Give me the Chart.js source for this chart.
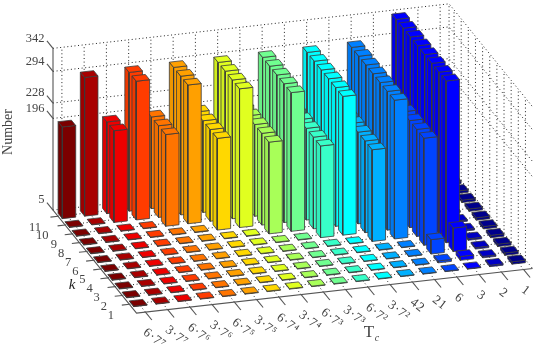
<!DOCTYPE html>
<html>
<head>
<meta charset="utf-8">
<script src="https://cdn.jsdelivr.net/npm/chart.js@4"></script>
<style>
  html, body { margin: 0; padding: 0; background: #fff; }
  canvas { display: block; }
</style>
</head>
<body>
<canvas id="chart" width="538" height="351"></canvas>
<script>
const tcLabels = ["6·7⁷", "3·7⁷", "6·7⁶", "3·7⁶", "6·7⁵", "3·7⁵", "6·7⁴", "3·7⁴", "6·7³", "3·7³", "6·7²", "3·7²", "42", "21", "6", "3", "2", "1"];
const kLabels = [1, 2, 3, 4, 5, 6, 7, 8, 9, 10, 11];
const zTicks = [5, 196, 228, 294, 342];

// one row per k, one value per Tc column
const k1 = [6, 6, 6, 6, 6, 6, 6, 6, 6, 6, 6, 6, 6, 6, 6, 6, 8, 10];
const k2 = [6, 6, 6, 6, 6, 6, 6, 6, 6, 6, 6, 6, 6, 6, 9, 13, 8, 10];
const k3 = [6, 6, 6, 6, 6, 6, 6, 6, 6, 6, 6, 6, 6, 6, 35, 54, 8, 10];
const k4 = [6, 6, 6, 6, 6, 6, 6, 6, 6, 6, 6, 6, 6, 6, 228, 342, 8, 10];
const k5 = [6, 6, 6, 6, 6, 6, 6, 6, 6, 6, 6, 6, 196, 294, 228, 342, 8, 10];
const k6 = [6, 6, 6, 6, 6, 6, 6, 6, 6, 6, 196, 294, 196, 294, 228, 342, 8, 10];
const k7 = [6, 6, 6, 6, 6, 6, 6, 6, 196, 294, 196, 294, 196, 294, 228, 342, 8, 10];
const k8 = [6, 6, 6, 6, 6, 6, 196, 294, 196, 294, 196, 294, 196, 294, 228, 342, 8, 10];
const k9 = [6, 6, 6, 6, 196, 294, 196, 294, 196, 294, 196, 294, 196, 294, 228, 342, 8, 10];
const k10 = [6, 6, 196, 294, 196, 294, 196, 294, 196, 294, 196, 294, 196, 294, 228, 342, 8, 10];
const k11 = [196, 294, 196, 294, 196, 294, 196, 294, 196, 294, 196, 294, 196, 294, 228, 342, 8, 10];
const rows = [k1, k2, k3, k4, k5, k6, k7, k8, k9, k10, k11];

const columnColors = ["#7b0000", "#a80000", "#ee0000", "#ff3c00", "#ff7400", "#ffa000", "#ffd800", "#e0ff20", "#a8ff58", "#70ff90", "#38ffc8", "#00ffff", "#00b0ff", "#0080ff", "#0044ff", "#0000ff", "#0000c4", "#00008c"];

// view: orthographic 3d -> page plane
const cMin = 0.6, cMax = 18.4, kMin = 0, kMax = 11.7, zMin = 5, zMax = 342;
const barW = 0.6;
function project(c, k, z) {
  return {
    x: 53 + (c - cMin) * 22.25 + (kMax - k) * 7.14,
    y: 210.1 - (c - cMin) * 2.5 + (kMax - k) * 8.8 - (z - zMin) * 0.48
  };
}

const datasets = [];
function addPath(points, style) {
  datasets.push(Object.assign({
    data: points, showLine: true, pointRadius: 0, tension: 0,
    borderColor: "#666", borderWidth: 1, fill: false
  }, style));
}
const dotted = { borderColor: "#222", borderWidth: 1, borderDash: [1, 2.6] };
const solid = { borderColor: "#555", borderWidth: 1.1 };

// back wall, right wall and floor grid
tcLabels.forEach((_, i) => {
  const c = i + 1;
  addPath([project(c, kMax, zMin), project(c, kMax, zMax)], dotted);
  addPath([project(c, kMin, zMin), project(c, kMax, zMin)], dotted);
});
kLabels.forEach(k => {
  addPath([project(cMax, k, zMin), project(cMax, k, zMax)], dotted);
  addPath([project(cMin, k, zMin), project(cMax, k, zMin)], dotted);
});
zTicks.forEach(z => {
  addPath([project(cMin, kMax, z), project(cMax, kMax, z), project(cMax, kMin, z)], dotted);
});
addPath([project(cMax, kMax, zMin), project(cMax, kMax, zMax)], dotted);

// axes and ticks
addPath([project(cMin, kMax, zMax), project(cMin, kMax, zMin), project(cMin, kMin, zMin), project(cMax, kMin, zMin)], solid);
tcLabels.forEach((_, i) => {
  addPath([project(i + 1, kMin, zMin), project(i + 1, kMin - 0.9, zMin)], solid);
});
kLabels.forEach(k => {
  addPath([project(cMin, k, zMin), project(cMin - 0.34, k, zMin)], solid);
});
zTicks.forEach(z => {
  addPath([project(cMin, kMax, z), project(cMin, kMax + 0.85, z)], solid);
});

function shade(hex, f) {
  const n = parseInt(hex.slice(1), 16);
  const r = Math.round((n >> 16) * f), g = Math.round(((n >> 8) & 255) * f), b = Math.round((n & 255) * f);
  return "rgb(" + r + "," + g + "," + b + ")";
}

// bars, painted from the far rows to the near ones
for (let ki = kLabels.length - 1; ki >= 0; ki--) {
  for (let ci = tcLabels.length - 1; ci >= 0; ci--) {
    const v = rows[ki][ci], col = columnColors[ci];
    const c0 = ci + 1 - barW / 2, c1 = ci + 1 + barW / 2;
    const k0 = kLabels[ki] - barW / 2, k1b = kLabels[ki] + barW / 2;
    const edge = { borderColor: "#3a3a3a", borderWidth: 0.8, fill: "shape" };
    addPath([project(c0, k0, zMin), project(c0, k1b, zMin), project(c0, k1b, v), project(c0, k0, v), project(c0, k0, zMin)],
      Object.assign({ backgroundColor: shade(col, 0.93) }, edge));
    addPath([project(c0, k0, zMin), project(c1, k0, zMin), project(c1, k0, v), project(c0, k0, v), project(c0, k0, zMin)],
      Object.assign({ backgroundColor: col }, edge));
    addPath([project(c0, k0, v), project(c1, k0, v), project(c1, k1b, v), project(c0, k1b, v), project(c0, k0, v)],
      Object.assign({ backgroundColor: col }, edge));
  }
}

const textPlugin = {
  id: "axisText",
  afterDraw(chart) {
    const ctx = chart.ctx;
    ctx.save();
    ctx.fillStyle = "#444";
    ctx.textBaseline = "middle";

    ctx.font = "12.5px 'Liberation Serif'";
    ctx.textAlign = "right";
    zTicks.forEach(z => {
      const p = project(cMin, kMax, z);
      ctx.fillText(String(z), p.x - 8.5, p.y - 10);
    });

    ctx.textAlign = "center";
    kLabels.forEach(k => {
      const p = project(cMin, k, zMin);
      ctx.fillText(String(k), p.x - (k > 9 ? 23 : 18.4), p.y + 11);
    });

    ctx.textAlign = "left";
    ctx.font = "13px 'Liberation Serif'";
    ctx.letterSpacing = "0.7px";
    tcLabels.forEach((label, i) => {
      const p = project(i + 1, kMin, zMin);
      ctx.save();
      ctx.translate(p.x - 1, p.y + 19);
      ctx.rotate(37 * Math.PI / 180);
      ctx.fillText(label, 0, 0);
      ctx.restore();
    });
    ctx.letterSpacing = "0px";

    ctx.textAlign = "center";
    ctx.font = "14px 'Liberation Serif'";
    ctx.save();
    ctx.translate(8, 132);
    ctx.rotate(-Math.PI / 2);
    ctx.fillText("Number", 0, 0);
    ctx.restore();

    ctx.fillStyle = "#222";
    ctx.font = "italic 15px 'Liberation Serif'";
    ctx.fillText("k", 72, 285);
    ctx.fillStyle = "#444";
    ctx.font = "17px 'Liberation Serif'";
    ctx.fillText("T", 369, 333);
    ctx.font = "italic 10px 'Liberation Serif'";
    ctx.fillText("c", 377, 338);
    ctx.restore();
  }
};

// Chart.js paints the first dataset last, so flip the list
new Chart(document.getElementById("chart"), {
  type: "scatter",
  data: { datasets: datasets.reverse() },
  options: {
    responsive: false,
    animation: false,
    layout: { padding: 0 },
    plugins: { legend: { display: false }, tooltip: { enabled: false } },
    scales: {
      x: { type: "linear", min: 0, max: 538, display: false },
      y: { type: "linear", min: 0, max: 351, reverse: true, display: false }
    }
  },
  plugins: [textPlugin]
});
</script>
</body>
</html>
